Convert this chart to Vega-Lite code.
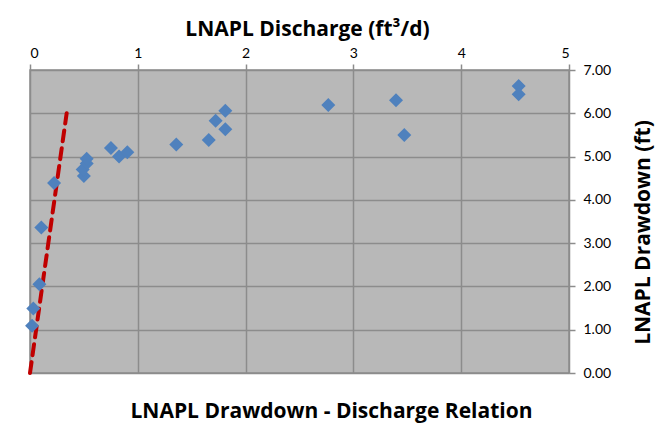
{
  "$schema": "https://vega.github.io/schema/vega-lite/v6.json",
  "width": 539,
  "height": 303,
  "autosize": {"type": "none"},
  "padding": {"left": 30, "top": 70, "right": 100, "bottom": 61},
  "background": "white",
  "config": {
    "font": "Lato",
    "view": {"fill": "#B8B8B8", "stroke": "#8C8C8C", "strokeWidth": 1.5}
  },
  "title": {
    "text": "LNAPL Drawdown - Discharge Relation",
    "orient": "bottom",
    "anchor": "middle",
    "font": "Open Sans",
    "fontSize": 21,
    "fontWeight": "bold",
    "color": "#000000",
    "offset": 20,
    "dx": 32
  },
  "datasets": {
    "obs": [
      {"q": 0.019, "d": 1.09},
      {"q": 0.031, "d": 1.49},
      {"q": 0.087, "d": 2.05},
      {"q": 0.105, "d": 3.36},
      {"q": 0.223, "d": 4.39},
      {"q": 0.50, "d": 4.55},
      {"q": 0.489, "d": 4.70},
      {"q": 0.526, "d": 4.84},
      {"q": 0.526, "d": 4.95},
      {"q": 0.751, "d": 5.20},
      {"q": 0.826, "d": 5.00},
      {"q": 0.903, "d": 5.10},
      {"q": 1.357, "d": 5.28},
      {"q": 1.658, "d": 5.38},
      {"q": 1.722, "d": 5.83},
      {"q": 1.812, "d": 6.06},
      {"q": 1.812, "d": 5.63},
      {"q": 2.767, "d": 6.19},
      {"q": 3.395, "d": 6.30},
      {"q": 3.472, "d": 5.50},
      {"q": 4.533, "d": 6.63},
      {"q": 4.533, "d": 6.44}
    ],
    "fit": [
      {"q": 0, "d": 0},
      {"q": 0.34, "d": 6.0}
    ]
  },
  "encoding": {
    "x": {
      "field": "q",
      "type": "quantitative",
      "scale": {"domain": [0, 5], "nice": false, "zero": false},
      "axis": {
        "orient": "top",
        "values": [0, 1, 2, 3, 4, 5],
        "format": "d",
        "grid": true,
        "gridColor": "#8C8C8C",
        "gridWidth": 1.5,
        "domain": false,
        "ticks": true,
        "tickColor": "#8C8C8C",
        "tickSize": 6,
        "tickWidth": 1.5,
        "labelFont": "Lato",
        "labelFontSize": 14,
        "labelColor": "#000000",
        "labelPadding": 4,
        "title": "LNAPL Discharge (ft³/d)",
        "titleFont": "Open Sans",
        "titleFontSize": 21,
        "titleFontWeight": "bold",
        "titleColor": "#000000",
        "titlePadding": 7,
        "titleX": 277
      }
    },
    "y": {
      "field": "d",
      "type": "quantitative",
      "scale": {"domain": [0, 7], "nice": false},
      "axis": {
        "orient": "right",
        "values": [0, 1, 2, 3, 4, 5, 6, 7],
        "format": ".2f",
        "grid": true,
        "gridColor": "#8C8C8C",
        "gridWidth": 1.5,
        "domain": false,
        "ticks": true,
        "tickColor": "#8C8C8C",
        "tickSize": 6,
        "tickWidth": 1.5,
        "labelFont": "Lato",
        "labelFontSize": 14,
        "labelColor": "#000000",
        "labelPadding": 8,
        "title": "LNAPL Drawdown (ft)",
        "titleFont": "Open Sans",
        "titleFontSize": 21,
        "titleFontWeight": "bold",
        "titleColor": "#000000",
        "titleAngle": 270,
        "titleAlign": "center",
        "titleBaseline": "bottom",
        "titlePadding": 43,
        "titleY": 162
      }
    }
  },
  "layer": [
    {
      "data": {"name": "fit"},
      "mark": {"type": "line", "color": "#C00000", "strokeWidth": 4, "strokeDash": [11, 7], "strokeCap": "round"}
    },
    {
      "data": {"name": "obs"},
      "mark": {"type": "point", "shape": "diamond", "filled": true, "size": 196, "color": "#4F81BD", "opacity": 1}
    }
  ]
}
